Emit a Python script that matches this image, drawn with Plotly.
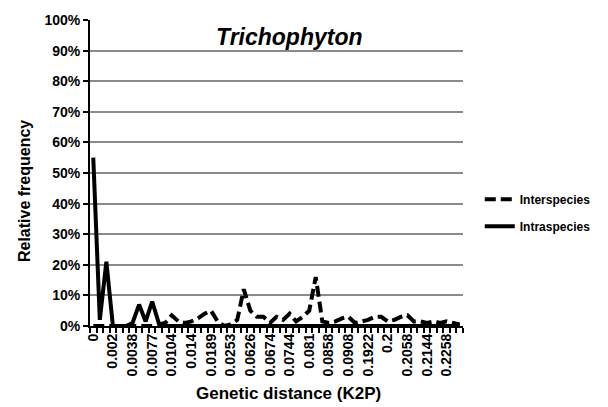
import plotly.graph_objects as go

# Distance bins (57 classes); every third bin carries a K2P distance label
bins = list(range(57))
label_bins = bins[::3]
tick_labels = ["0", "0.002", "0.0038", "0.0077", "0.0104", "0.014", "0.0189",
               "0.0253", "0.0626", "0.0674", "0.0744", "0.081", "0.0858",
               "0.0908", "0.1922", "0.2", "0.2058", "0.2144", "0.2258"]

# Relative frequency (%) per bin
interspecies = [0, 0, 0, 0, 0, 0, 0, 0, 0, 0,
                0.5, 1, 3.5, 1.5, 1, 1.5, 2.5, 4, 5, 1.5,
                0, 0.5, 2, 12, 5, 3, 3, 1, 3, 2,
                4, 1.5, 3, 5, 16, 1.5, 1, 1.5, 2.5, 3,
                1, 1.5, 2, 3, 3, 1.5, 2, 3, 3.5, 1.5,
                1.5, 1, 1.5, 1, 1.5, 1, 0.5]
intraspecies = [55, 2, 21, 0, 0, 0, 1, 7, 1.5, 8,
                1, 0, 0, 0, 0, 0, 0, 0, 0, 0,
                0, 0, 0, 0, 0, 0, 0, 0, 0, 0,
                0, 0, 0, 0, 0, 0, 0, 0, 0, 0,
                0, 0, 0, 0, 0, 0, 0, 0, 0, 0,
                0, 0, 0, 0, 0, 0, 0]

FONT = "Liberation Sans, Arial, sans-serif"

fig = go.Figure()
fig.add_trace(go.Scatter(
    x=bins, y=interspecies, mode="lines", name="Interspecies",
    legendgroup="inter",
    line=dict(color="black", width=4, dash="11px,5px"),
))
fig.add_trace(go.Scatter(
    x=bins, y=intraspecies, mode="lines", name="Intraspecies",
    legendgroup="intra",
    line=dict(color="black", width=4),
))

# Chart title inside the top band of the plot
fig.add_annotation(
    text="<b><i>Trichophyton</i></b>", x=0.534, y=0.946,
    xref="paper", yref="paper", showarrow=False,
    xanchor="center", yanchor="middle",
    font=dict(family=FONT, size=23, color="black"),
)
# Axis titles
fig.add_annotation(
    text="<b>Genetic distance (K2P)</b>", x=0.5335, y=-0.222,
    xref="paper", yref="paper", showarrow=False,
    xanchor="center", yanchor="middle",
    font=dict(family=FONT, size=17, color="black"),
)
fig.add_annotation(
    text="<b>Relative frequency</b>", x=-0.177, y=0.441,
    xref="paper", yref="paper", showarrow=False, textangle=-90,
    xanchor="center", yanchor="middle",
    font=dict(family=FONT, size=16, color="black"),
)

fig.update_layout(
    width=608, height=407,
    margin=dict(l=90, r=145, t=20, b=81),
    paper_bgcolor="white", plot_bgcolor="white",
    font=dict(family=FONT, color="black"),
    showlegend=True,
    legend=dict(
        x=1.045, y=0.462, xanchor="left", yanchor="top",
        font=dict(family=FONT, size=12, weight="bold"),
        bgcolor="rgba(0,0,0,0)", tracegroupgap=8,
    ),
    xaxis=dict(
        range=[-0.5, 56.5], tickmode="array",
        tickvals=label_bins, ticktext=tick_labels,
        tickangle=-90, ticks="", automargin=False,
        tickfont=dict(family=FONT, size=14, weight="bold"),
        showline=True, linecolor="black", linewidth=2,
        showgrid=False, zeroline=False,
        minor=dict(tick0=-0.5, dtick=1, ticks="outside", ticklen=5,
                   tickcolor="black", tickwidth=1.5, showgrid=False),
    ),
    yaxis=dict(
        range=[0, 100], tickmode="linear", tick0=0, dtick=10,
        ticksuffix="%", ticks="outside", ticklen=5, tickcolor="black",
        tickwidth=1.5, automargin=False,
        tickfont=dict(family=FONT, size=14, weight="bold"),
        showline=True, linecolor="black", linewidth=2,
        showgrid=True, gridcolor="#8a8a8a", gridwidth=2,
        zeroline=False,
    ),
)

fig.write_html("out.html")
